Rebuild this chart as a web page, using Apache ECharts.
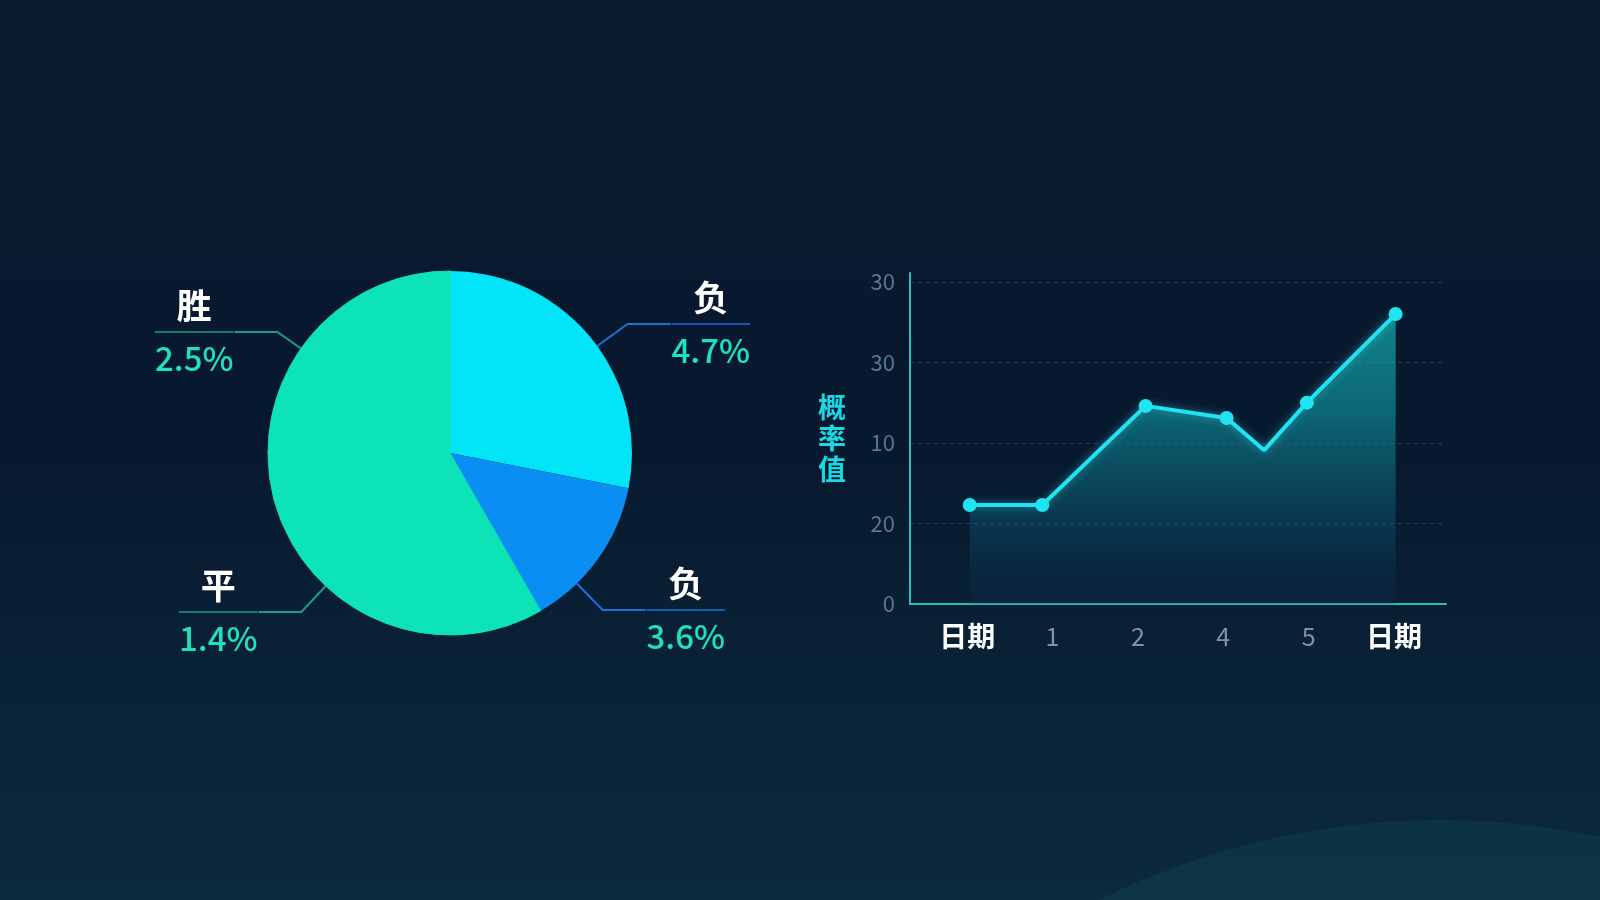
<!DOCTYPE html>
<html>
<head>
<meta charset="utf-8">
<script src="https://cdn.jsdelivr.net/npm/echarts@6/dist/echarts.min.js"></script>
<style>
html, body { margin: 0; padding: 0; background: #0a1b30; }
#main { width: 1600px; height: 900px; }
</style>
</head>
<body>
<div id="main"></div>
<script>
// ---- data ----
const pieNames = ['负', '负', '平', '胜'];
const pieShares = [28.1, 13.6, 33.3, 25.0];
const pieLabelPercents = [4.7, 3.6, 1.4, 2.5];

const xTickLabels = ['日期', '1', '2', '4', '5', '日期'];
const yTickLabels = ['0', '20', '10', '30', '30'];
const yAxisName = '概率值';
const lineX = [0.03, 0.88, 2.09, 3.04, 3.48, 3.98, 5.02];
const lineY = [12.3, 12.3, 24.6, 23.1, 19.1, 25.0, 36.0];

// ---- layout / styling (not data) ----
const FONT = '"Noto Sans CJK SC", "Noto Sans", sans-serif';
const sliceColors = ['#02e4f8', '#0a8ef4', '#0ce4b7', '#0ce4b7'];
const guideColorKeys = ['hrB', 'hrB', 'hrT', 'hrT'];
const guideColors = { hrB: '#1f6fd8', hrT: '#1b9d8d' };
const PIE_CX = 450, PIE_CY = 453, PIE_R = 182;
const GUIDE_LEN2 = 43;
// outer end of each label's underline [x, y]
const pieLabelAnchors = [[750, 324], [725, 610], [179, 612], [155, 332]];
const noMarkerIndex = 4;

const chart = echarts.init(document.getElementById('main'), null, { renderer: 'canvas' });

const pieData = pieNames.map((n, i) => ({
  name: n,
  value: pieShares[i],
  itemStyle: {
    color: sliceColors[i],
    borderColor: sliceColors[i],
    borderWidth: i >= 2 ? 1 : 0
  },
  labelLine: { lineStyle: { color: guideColors[guideColorKeys[i]], width: 2 } }
}));

const lineData = lineX.map((x, i) => {
  const item = { value: [x, lineY[i]] };
  if (i === noMarkerIndex) item.symbol = 'none';
  return item;
});

const option = {
  animation: false,
  backgroundColor: {
    type: 'linear', x: 0, y: 0, x2: 0, y2: 1,
    colorStops: [
      { offset: 0, color: '#0b1a2f' },
      { offset: 0.5, color: '#07192f' },
      { offset: 1, color: '#0c2a3d' }
    ]
  },
  textStyle: { fontFamily: FONT },
  graphic: [{
    type: 'circle',
    silent: true,
    z: -10,
    shape: { cx: 1440, cy: 1590, r: 770 },
    style: { fill: 'rgba(18, 70, 92, 0.32)' }
  }],
  grid: { left: 910, right: 154, top: 273, bottom: 296 },
  xAxis: {
    type: 'value',
    min: -0.67,
    max: 5.61,
    splitLine: { show: false },
    axisTick: { show: false },
    axisLine: { show: true, onZero: false, lineStyle: { color: '#2fbcbc', width: 2 } },
    axisLabel: {
      customValues: [0, 1, 2, 3, 4, 5],
      margin: 14,
      formatter: function (v) {
        const t = xTickLabels[Math.round(v)];
        if (t === undefined) return '';
        return /^\d+$/.test(t) ? '{n|' + t + '}' : '{d|' + t + '}';
      },
      rich: {
        d: { fontSize: 28, color: '#ffffff', fontWeight: 'bold', lineHeight: 36, fontFamily: FONT },
        n: { fontSize: 25, color: '#7a94a8', lineHeight: 36, fontFamily: FONT }
      }
    }
  },
  yAxis: {
    type: 'value',
    min: 0,
    max: 41.1,
    interval: 10,
    name: yAxisName.split('').join('\n'),
    nameLocation: 'middle',
    nameRotate: 0,
    nameGap: 64,
    nameTextStyle: { color: '#19d8e6', fontSize: 28, fontWeight: 'bold', lineHeight: 31, fontFamily: FONT },
    axisLine: { show: true, onZero: false, lineStyle: { color: '#2fbcbc', width: 2 } },
    axisTick: { show: false },
    splitLine: {
      show: true,
      showMinLine: false,
      showMaxLine: false,
      lineStyle: { color: 'rgba(70, 110, 140, 0.45)', type: [4, 4], width: 1 }
    },
    axisLabel: {
      customValues: [0, 10, 20, 30, 40],
      margin: 15,
      color: '#5a778c',
      fontSize: 22,
      formatter: function (v) {
        const t = yTickLabels[Math.round(v / 10)];
        return t === undefined ? '' : t;
      }
    }
  },
  series: [
    {
      type: 'pie',
      center: [PIE_CX, PIE_CY],
      radius: PIE_R,
      startAngle: 90,
      clockwise: true,
      avoidLabelOverlap: false,
      silent: true,
      data: pieData,
      label: {
        show: true,
        formatter: function (p) {
          const hr = guideColorKeys[p.dataIndex];
          return '{n|' + p.name + '}\n{' + hr + '|}\n{v|' + pieLabelPercents[p.dataIndex].toFixed(1) + '%}';
        },
        rich: {
          n: { fontSize: 35, color: '#ffffff', fontWeight: 'bold', lineHeight: 52, align: 'center', fontFamily: FONT },
          v: { fontSize: 33, color: '#20e0c2', fontWeight: 500, lineHeight: 52, align: 'center', fontFamily: FONT },
          hrB: { width: '100%', height: 0, borderWidth: 1, borderColor: guideColors.hrB },
          hrT: { width: '100%', height: 0, borderWidth: 1, borderColor: guideColors.hrT }
        }
      },
      labelLine: { show: true, length: 26, length2: GUIDE_LEN2, smooth: false },
      labelLayout: function (params) {
        const a = pieLabelAnchors[params.dataIndex];
        const isLeft = a[0] < PIE_CX;
        const w = params.labelRect.width;
        const edgeX = isLeft ? a[0] + w : a[0] - w;
        const elbow = [isLeft ? edgeX + GUIDE_LEN2 : edgeX - GUIDE_LEN2, a[1]];
        const dx = elbow[0] - PIE_CX, dy = elbow[1] - PIE_CY;
        const d = Math.sqrt(dx * dx + dy * dy);
        const start = [PIE_CX + dx / d * PIE_R, PIE_CY + dy / d * PIE_R];
        return {
          x: a[0],
          y: a[1],
          align: isLeft ? 'left' : 'right',
          verticalAlign: 'middle',
          labelLinePoints: [start, elbow, [edgeX, a[1]]]
        };
      }
    },
    {
      type: 'line',
      data: lineData,
      showAllSymbol: true,
      symbol: 'circle',
      symbolSize: 14,
      itemStyle: { color: '#1fe4f2' },
      lineStyle: { color: '#1fe4f2', width: 4, shadowColor: 'rgba(31, 228, 242, 0.5)', shadowBlur: 8 },
      areaStyle: {
        color: {
          type: 'linear', x: 0, y: 0, x2: 0, y2: 1,
          colorStops: [
            { offset: 0, color: 'rgba(20, 178, 180, 1)' },
            { offset: 0.35, color: 'rgba(15, 140, 150, 0.95)' },
            { offset: 0.7, color: 'rgba(11, 86, 112, 0.72)' },
            { offset: 1, color: 'rgba(10, 45, 75, 0.3)' }
          ]
        }
      },
      z: 3
    }
  ]
};

chart.setOption(option);
</script>
</body>
</html>
